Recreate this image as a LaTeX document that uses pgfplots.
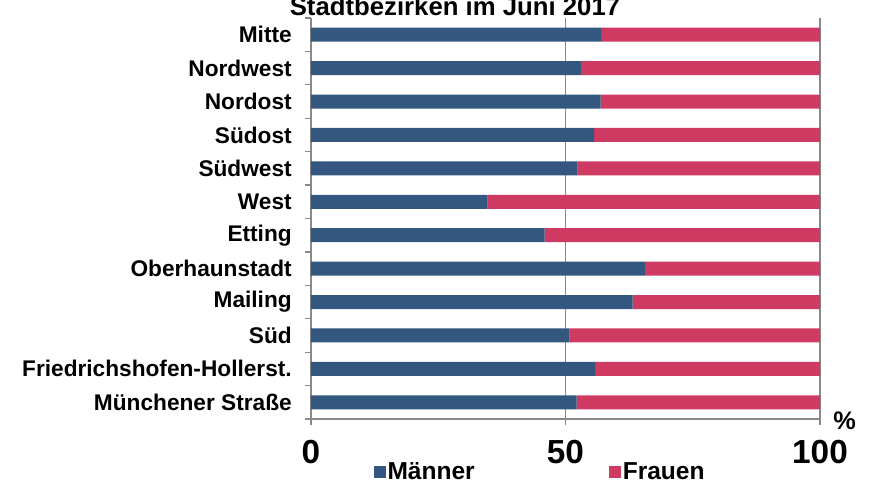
\documentclass[border=0pt]{standalone}
\usepackage{fontspec}
\setmainfont{Liberation Sans}
\usepackage{pgfplots}
\pgfplotsset{compat=1.18}
\definecolor{mblue}{RGB}{52,87,128}
\definecolor{fpink}{RGB}{207,58,99}
\definecolor{axgray}{RGB}{137,137,137}
\begin{document}
\begin{tikzpicture}
\begin{axis}[
  at={(0pt,0pt)}, anchor=south west,
  scale only axis, width=381.75pt, height=300.75pt,
  clip=false,
  xbar stacked, bar width=10.5pt,
  xmin=0, xmax=100, ymin=-0.5, ymax=11.5,
  axis x line*=bottom, axis y line*=left,
  axis line style={axgray, line width=0.9pt, -},
  xtick={0,50,100}, xmajorgrids, grid style={axgray, line width=0.9pt},
  tick align=outside, major tick length=4.5pt,
  tick style={draw=axgray, line width=0.9pt},
  ytick={-0.5,0.5,...,11.5},
  y tick label as interval,
  yticklabels={Münchener Straße, Friedrichshofen-Hollerst., Süd, Mailing, Oberhaunstadt, Etting, West, Südwest, Südost, Nordost, Nordwest, Mitte},
  yticklabel style={font=\fontsize{17}{17}\selectfont\bfseries, anchor=east, inner sep=0pt, xshift=-9.75pt},
  xticklabel style={font=\fontsize{25}{25}\selectfont\bfseries, anchor=north, inner sep=0pt, yshift=-11.25pt},
  /pgf/number format/assume math mode=true,
  legend style={at={(axis description cs:0.45,-0.132)}, anchor=center, draw=none, fill=none,
    legend columns=2, font=\fontsize{18.4}{18}\selectfont\bfseries,
    nodes={inner sep=1.5pt},
    /tikz/every even column/.append style={column sep=99pt}},
  legend image code/.code={\fill[#1] (0pt,-4.5pt) rectangle (9pt,4.5pt);},
]
\addplot[fill=mblue, draw=none] coordinates {
 (52.2,0) (55.8,1) (50.8,2) (63.2,3) (65.6,4) (45.9,5) (34.7,6) (52.4,7) (55.6,8) (56.9,9) (53.0,10) (57.0,11)};
\addplot[fill=fpink, draw=none] coordinates {
 (47.8,0) (44.2,1) (49.2,2) (36.8,3) (34.4,4) (54.1,5) (65.3,6) (47.6,7) (44.4,8) (43.1,9) (47.0,10) (43.0,11)};
\legend{Männer, Frauen}
\pgfplotsinvokeforeach{-0.5,0.5,1.5,2.5,3.5,4.5,5.5,6.5,7.5,8.5,9.5,10.5,11.5}{
  \draw[axgray, line width=0.9pt] (axis cs:0,#1) -- ++(-4.5pt,0pt);}
\pgfplotsinvokeforeach{0,50,100}{
  \draw[axgray, line width=0.9pt] (axis cs:#1,-0.5) -- ++(0pt,-4.5pt);}
\end{axis}
\node[anchor=west, inner sep=0pt, font=\fontsize{19}{19}\selectfont\bfseries] at (391.5pt,-1.5pt) {\%};
\node[anchor=base, inner sep=0pt, font=\fontsize{19.3}{19}\selectfont\bfseries] at (108pt,302.25pt) {Stadtbezirken im Juni 2017};
\pgfresetboundingbox
\path[use as bounding box] (-233.25pt,-50.25pt) rectangle (419.25pt,314.25pt);
\end{tikzpicture}
\end{document}
